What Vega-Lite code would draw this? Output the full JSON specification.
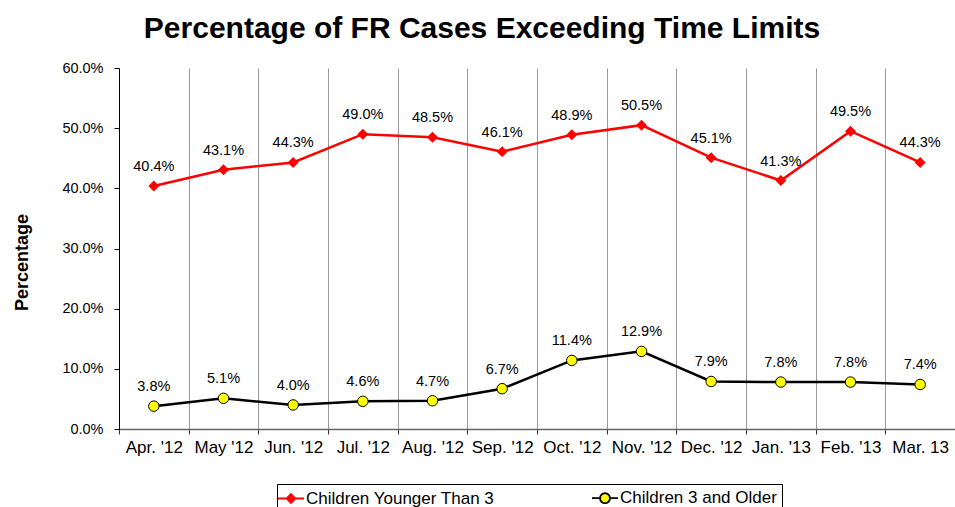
{
  "$schema": "https://vega.github.io/schema/vega-lite/v6.json",
  "autosize": "none",
  "width": 836,
  "height": 361,
  "padding": {"left": 119, "top": 68, "right": 0, "bottom": 78},
  "background": "white",
  "title": {
    "text": "Percentage of FR Cases Exceeding Time Limits",
    "font": "Liberation Sans",
    "fontSize": 30,
    "fontWeight": "bold",
    "color": "black",
    "anchor": "middle",
    "dx": -55,
    "offset": 16
  },
  "config": {
    "view": {"stroke": null},
    "font": "Liberation Sans"
  },
  "data": {
    "values": [
      {"month": "Apr. '12", "series": "Children Younger Than 3", "value": 0.404},
      {"month": "May '12", "series": "Children Younger Than 3", "value": 0.431},
      {"month": "Jun. '12", "series": "Children Younger Than 3", "value": 0.443},
      {"month": "Jul. '12", "series": "Children Younger Than 3", "value": 0.490},
      {"month": "Aug. '12", "series": "Children Younger Than 3", "value": 0.485},
      {"month": "Sep. '12", "series": "Children Younger Than 3", "value": 0.461},
      {"month": "Oct. '12", "series": "Children Younger Than 3", "value": 0.489},
      {"month": "Nov. '12", "series": "Children Younger Than 3", "value": 0.505},
      {"month": "Dec. '12", "series": "Children Younger Than 3", "value": 0.451},
      {"month": "Jan. '13", "series": "Children Younger Than 3", "value": 0.413},
      {"month": "Feb. '13", "series": "Children Younger Than 3", "value": 0.495},
      {"month": "Mar. 13", "series": "Children Younger Than 3", "value": 0.443},
      {"month": "Apr. '12", "series": "Children 3 and Older", "value": 0.038},
      {"month": "May '12", "series": "Children 3 and Older", "value": 0.051},
      {"month": "Jun. '12", "series": "Children 3 and Older", "value": 0.040},
      {"month": "Jul. '12", "series": "Children 3 and Older", "value": 0.046},
      {"month": "Aug. '12", "series": "Children 3 and Older", "value": 0.047},
      {"month": "Sep. '12", "series": "Children 3 and Older", "value": 0.067},
      {"month": "Oct. '12", "series": "Children 3 and Older", "value": 0.114},
      {"month": "Nov. '12", "series": "Children 3 and Older", "value": 0.129},
      {"month": "Dec. '12", "series": "Children 3 and Older", "value": 0.079},
      {"month": "Jan. '13", "series": "Children 3 and Older", "value": 0.078},
      {"month": "Feb. '13", "series": "Children 3 and Older", "value": 0.078},
      {"month": "Mar. 13", "series": "Children 3 and Older", "value": 0.074}
    ]
  },
  "encoding": {
    "x": {
      "field": "month",
      "type": "nominal",
      "sort": null,
      "scale": {"type": "band", "paddingInner": 0, "paddingOuter": 0},
      "axis": {
        "title": null,
        "labelAngle": 0,
        "labelFontSize": 17,
        "labelColor": "black",
        "labelPadding": 5,
        "tickBand": "extent",
        "tickSize": 5,
        "tickColor": "#333333",
        "domainColor": "#666666",
        "domainWidth": 1.5,
        "grid": true,
        "gridColor": "#999999",
        "gridWidth": 1
      }
    },
    "y": {
      "field": "value",
      "type": "quantitative",
      "scale": {"domain": [0, 0.6], "nice": false},
      "axis": {
        "title": "Percentage",
        "titleFontSize": 18,
        "titleFontWeight": "bold",
        "titleColor": "black",
        "titleX": -97,
        "titleY": 194,
        "titleBaseline": "middle",
        "titleAngle": -90,
        "titleAlign": "center",
        "format": ".1%",
        "values": [0, 0.1, 0.2, 0.3, 0.4, 0.5, 0.6],
        "labelFontSize": 14.5,
        "labelColor": "black",
        "labelPadding": 11,
        "tickSize": 5,
        "tickColor": "black",
        "domainColor": "black",
        "grid": false
      }
    }
  },
  "layer": [
    {
      "mark": {"type": "line", "strokeWidth": 2.5},
      "encoding": {
        "color": {
          "field": "series",
          "type": "nominal",
          "title": null,
          "scale": {"domain": ["Children Younger Than 3", "Children 3 and Older"], "range": ["#ff0000", "#000000"]},
          "legend": {
            "orient": "none",
            "legendX": 158,
            "legendY": 416,
            "direction": "horizontal",
            "strokeColor": "black",
            "fillColor": "white",
            "padding": 5,
            "columnPadding": 93,
            "labelFontSize": 17,
            "labelColor": "black",
            "labelOffset": 6,
            "labelLimit": 400,
            "symbolSize": 256,
            "symbolStrokeWidth": 1.8
          }
        }
      }
    },
    {
      "transform": [{"filter": "datum.series == 'Children Younger Than 3'"}],
      "mark": {"type": "point", "shape": "diamond", "filled": true, "size": 120, "color": "#ff0000", "opacity": 1}
    },
    {
      "transform": [{"filter": "datum.series == 'Children 3 and Older'"}],
      "mark": {"type": "point", "shape": "circle", "filled": true, "size": 110, "fill": "#ffff00", "stroke": "#000000", "strokeWidth": 1, "opacity": 1}
    },
    {
      "mark": {"type": "text", "fontSize": 14.5, "color": "black", "dy": -19, "baseline": "middle"},
      "encoding": {
        "text": {"field": "value", "type": "quantitative", "format": ".1%"}
      }
    },
    {
      "mark": {"type": "point", "filled": true, "size": 256, "fill": "#ffff00", "fillOpacity": 0, "strokeOpacity": 0},
      "encoding": {
        "shape": {
          "field": "series",
          "type": "nominal",
          "title": null,
          "scale": {
            "domain": ["Children Younger Than 3", "Children 3 and Older"],
            "range": [
              "M-1.625,0L1.625,0M0,-0.55L0.55,0L0,0.55L-0.55,0ZM0,-0.38L0.38,0L0,0.38L-0.38,0ZM0,-0.21L0.21,0L0,0.21L-0.21,0ZM0,-0.06L0.06,0L0,0.06L-0.06,0Z",
              "M-1.625,0L-0.625,0M0.625,0L1.625,0M0.625,0L0.577,0.239L0.442,0.442L0.239,0.577L0,0.625L-0.239,0.577L-0.442,0.442L-0.577,0.239L-0.625,0L-0.577,-0.239L-0.442,-0.442L-0.239,-0.577L0,-0.625L0.239,-0.577L0.442,-0.442L0.577,-0.239Z"
            ]
          },
          "legend": {
            "orient": "none",
            "legendX": 158,
            "legendY": 416,
            "symbolSize": 256,
            "symbolOpacity": 1,
            "symbolFillColor": "#ffff00"
          }
        }
      }
    }
  ]
}
